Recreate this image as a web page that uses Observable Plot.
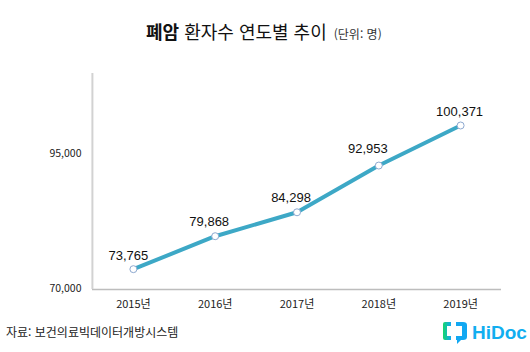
<!DOCTYPE html>
<html lang="ko">
<head>
<meta charset="utf-8">
<script src="https://cdn.jsdelivr.net/npm/d3@7"></script>
<script src="https://cdn.jsdelivr.net/npm/@observablehq/plot@0.6"></script>
<style>
html,body{margin:0;padding:0;background:#fff;}
#wrap{position:relative;width:530px;height:352px;overflow:hidden;font-family:"Noto Sans CJK KR",sans-serif;color:#111;}
#title{position:absolute;left:146px;top:19px;font-size:18px;line-height:24px;white-space:nowrap;}
#title b{font-weight:700;}
#title small{font-size:12px;color:#333;margin-left:2px;}
#source{position:absolute;left:6px;top:323px;font-size:12px;line-height:18px;color:#222;white-space:nowrap;}
#logo{position:absolute;left:442px;top:320px;display:flex;align-items:center;}
#logo span{font-family:"Liberation Sans",sans-serif;font-weight:700;font-size:19px;line-height:22px;color:#11aef0;margin-left:4px;}
svg{display:block;}
</style>
</head>
<body>
<div id="wrap">
<div id="title"><b>폐암</b> 환자수 연도별 추이 <small>(단위: 명)</small></div>
<div id="chart"></div>
<div id="source">자료: 보건의료빅데이터개방시스템</div>
<div id="logo">
<svg width="26" height="26" viewBox="0 0 26 26">
<defs><linearGradient id="g" x1="0" x2="1" y1="0" y2="0"><stop offset="0" stop-color="#16d66a"/><stop offset="1" stop-color="#12a8f2"/></linearGradient></defs>
<path d="M9 2H3Q1 2 1 4V18Q1 20 3 20H9V16H5V6H9Z" fill="url(#g)"/>
<path d="M14 2H21Q25 2 25 5V17Q25 20 21 20H19L15 24V20H14V16H20V6H14Z" fill="#12a8f2"/>
</svg>
<span>HiDoc</span>
</div>
</div>
<script>
const years = ["2015년","2016년","2017년","2018년","2019년"];
const patients = [73765,79868,84298,92953,100371];
const yTicks = [70000,95000];
const rows = years.map((year,i)=>({year,value:patients[i]}));
const fmt = d3.format(",");
const labels = (data,dx,dy)=>Plot.text(data,{x:"year",y:"value",text:d=>fmt(d.value),dx,dy,fill:"#111",fontSize:13,fontFamily:"'Liberation Sans',sans-serif"});
const plot = Plot.plot({
  width:530,height:352,
  marginLeft:92,marginRight:29,marginTop:73,marginBottom:63,
  style:{background:"transparent",fontFamily:"'Noto Sans CJK KR',sans-serif",fontSize:"11px",color:"#222"},
  x:{type:"point",domain:years,padding:0.5,round:false,axis:null},
  y:{domain:[70000,110000],axis:null},
  marks:[
    Plot.axisX({domain:years,tickSize:0,tickPadding:11,label:null,fontSize:11}),
    Plot.axisY(yTicks,{tickSize:0,tickPadding:11,label:null,tickFormat:fmt,fontSize:10.5,dy:-0.5}),
    Plot.ruleY([70000],{stroke:"#bdbdbd",strokeWidth:1.5}),
    Plot.ruleX([years[0]],{x:d=>d,dx:-41,y1:70000,y2:110000,stroke:"#d2d2d2",strokeWidth:2}),
    Plot.line(rows,{x:"year",y:"value",stroke:"#3da8c6",strokeWidth:4}),
    Plot.dot(rows,{x:"year",y:"value",r:3.5,fill:"#fff",stroke:"#8ea9d0",strokeWidth:1}),
    labels(rows.slice(0,1),-5,-13),
    labels(rows.slice(1,3),-6,-14),
    labels(rows.slice(3,4),-11,-17),
    labels(rows.slice(4),-1,-14)
  ]
});
document.getElementById("chart").appendChild(plot);
</script>
</body>
</html>
